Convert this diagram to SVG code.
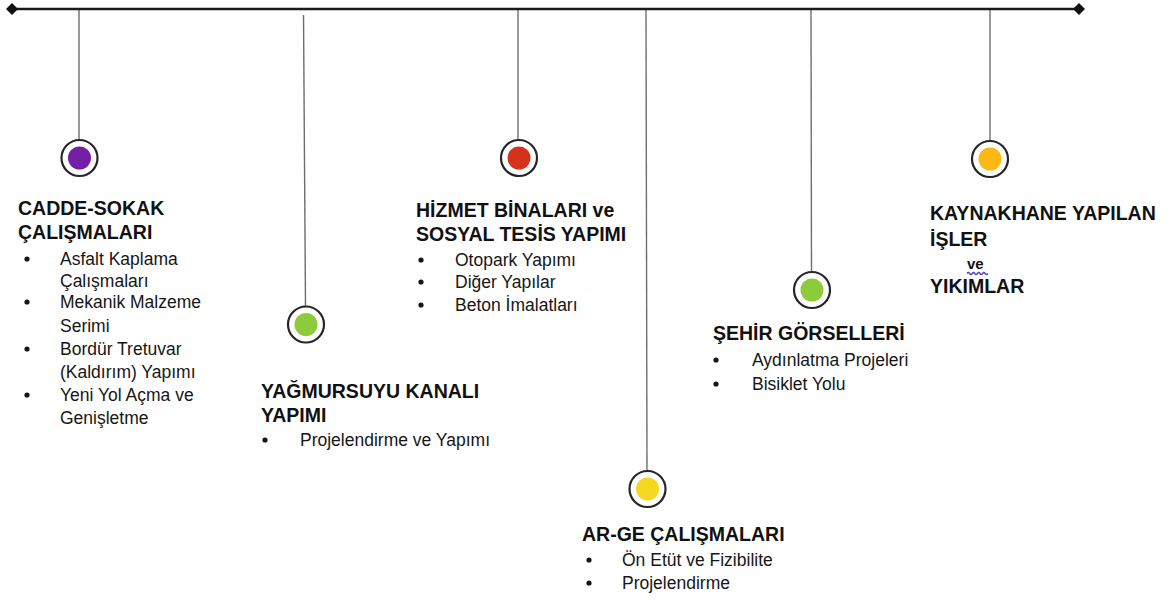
<svg xmlns="http://www.w3.org/2000/svg" width="1169" height="600" viewBox="0 0 1169 600">
<style>
.h{font-family:"Liberation Sans",Arial,sans-serif;font-weight:bold;font-size:19.5px;fill:#111}
.b{font-family:"Liberation Sans",Arial,sans-serif;font-size:17.5px;fill:#161616}
.v{stroke:#6e6e6e;stroke-width:1.4;fill:none}
.ring{fill:#fff;stroke:#262626;stroke-width:2.2}
.bul{fill:#161616}
</style>
<defs>
<marker id="dia" viewBox="-6 -6 12 12" markerWidth="12" markerHeight="12" markerUnits="userSpaceOnUse" refX="0" refY="0">
<path d="M0,-6 L6,0 L0,6 L-6,0 Z" fill="#111"/>
</marker>
</defs>
<rect width="1169" height="600" fill="#fff"/>
<g id="connectors">
<line class="v" x1="79" y1="9" x2="79" y2="140"/>
<line class="v" x1="303.5" y1="15" x2="305.5" y2="306"/>
<line class="v" x1="518" y1="9" x2="518" y2="140"/>
<line class="v" x1="646" y1="9" x2="647" y2="471"/>
<line class="v" x1="811" y1="9" x2="811.5" y2="272"/>
<line class="v" x1="990" y1="9" x2="990" y2="141"/>
<line x1="12" y1="9" x2="1079" y2="9" stroke="#1a1a1a" stroke-width="2.6" marker-start="url(#dia)" marker-end="url(#dia)"/>
</g>
<g id="node-cadde">
<circle class="ring" cx="79.5" cy="158" r="18"/>
<circle cx="79.5" cy="158" r="11.5" fill="#7320A6"/>
<text class="h" x="18" y="215">CADDE-SOKAK</text>
<text class="h" x="18" y="239">ÇALIŞMALARI</text>
<circle class="bul" cx="27" cy="259" r="2.6"/>
<text class="b" x="60" y="265">Asfalt Kaplama</text>
<text class="b" x="60" y="287">Çalışmaları</text>
<circle class="bul" cx="27" cy="302" r="2.6"/>
<text class="b" x="60" y="308">Mekanik Malzeme</text>
<text class="b" x="60" y="332">Serimi</text>
<circle class="bul" cx="27" cy="349" r="2.6"/>
<text class="b" x="60" y="355">Bordür Tretuvar</text>
<text class="b" x="60" y="378">(Kaldırım) Yapımı</text>
<circle class="bul" cx="27" cy="395" r="2.6"/>
<text class="b" x="60" y="401">Yeni Yol Açma ve</text>
<text class="b" x="60" y="424">Genişletme</text>
</g>
<g id="node-yagmursuyu">
<circle class="ring" cx="306" cy="324.5" r="18"/>
<circle cx="306" cy="324.5" r="11.5" fill="#8DCB3C"/>
<text class="h" x="261" y="398">YAĞMURSUYU KANALI</text>
<text class="h" x="261" y="422">YAPIMI</text>
<circle class="bul" cx="265" cy="440" r="2.6"/>
<text class="b" x="300" y="446">Projelendirme ve Yapımı</text>
</g>
<g id="node-hizmet">
<circle class="ring" cx="519" cy="158" r="18"/>
<circle cx="519" cy="158" r="11.5" fill="#D7321C"/>
<text class="h" x="416" y="217">HİZMET BİNALARI ve</text>
<text class="h" x="416" y="241">SOSYAL TESİS YAPIMI</text>
<circle class="bul" cx="421" cy="260" r="2.6"/>
<text class="b" x="455" y="266">Otopark Yapımı</text>
<circle class="bul" cx="421" cy="282" r="2.6"/>
<text class="b" x="455" y="288">Diğer Yapılar</text>
<circle class="bul" cx="421" cy="305" r="2.6"/>
<text class="b" x="455" y="311">Beton İmalatları</text>
</g>
<g id="node-arge">
<circle class="ring" cx="647.5" cy="489" r="18"/>
<circle cx="647.5" cy="489" r="11.5" fill="#F5D820"/>
<text class="h" x="582" y="541">AR-GE ÇALIŞMALARI</text>
<circle class="bul" cx="589" cy="560" r="2.6"/>
<text class="b" x="622" y="566">Ön Etüt ve Fizibilite</text>
<circle class="bul" cx="589" cy="583" r="2.6"/>
<text class="b" x="622" y="589">Projelendirme</text>
</g>
<g id="node-sehir">
<circle class="ring" cx="812" cy="290" r="18"/>
<circle cx="812" cy="290" r="11.5" fill="#8DCB3C"/>
<text class="h" x="713" y="340">ŞEHİR GÖRSELLERİ</text>
<circle class="bul" cx="716" cy="360" r="2.6"/>
<text class="b" x="752" y="366">Aydınlatma Projeleri</text>
<circle class="bul" cx="716" cy="384" r="2.6"/>
<text class="b" x="752" y="390">Bisiklet Yolu</text>
</g>
<g id="node-kaynakhane">
<circle class="ring" cx="990" cy="159" r="18"/>
<circle cx="990" cy="159" r="11.5" fill="#FDB813"/>
<text class="h" x="930" y="220">KAYNAKHANE YAPILAN</text>
<text class="h" x="930" y="246">İŞLER</text>
<text class="h" x="967" y="269" style="font-size:15px">ve</text>
<path d="M967,273.5 q1.3,-2 2.6,0 t2.6,0 t2.6,0 t2.6,0 t2.6,0 t2.6,0 t2.6,0 t2.6,0" fill="none" stroke="#5046c8" stroke-width="1.4"/>
<text class="h" x="930" y="293">YIKIMLAR</text>
</g>
</svg>
